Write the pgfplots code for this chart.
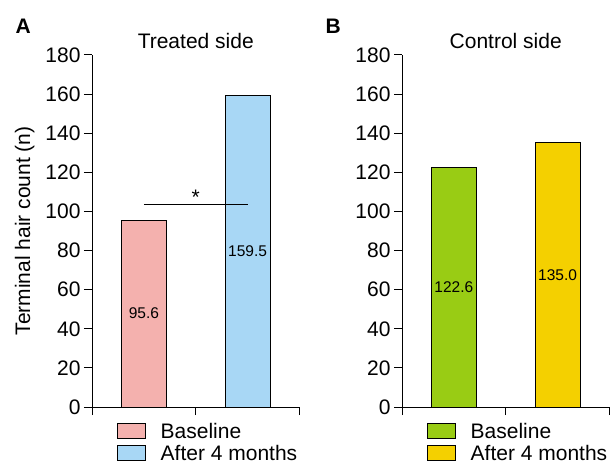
\documentclass[border=0pt]{standalone}
\usepackage{pgfplots}
\pgfplotsset{compat=1.18}
\usepackage{fontspec}
\setmainfont{Liberation Sans}

\definecolor{pinkbar}{RGB}{244,177,174}
\definecolor{bluebar}{RGB}{168,215,245}
\definecolor{greenbar}{RGB}{153,204,20}
\definecolor{yellowbar}{RGB}{244,208,0}

\newcommand{\bigfont}{\fontsize{21}{21}\selectfont}
\newcommand{\valfont}{\fontsize{15.5}{15.5}\selectfont}

\pgfplotsset{
  panel/.style={
    scale only axis, width=207.5pt, height=352pt,
    xmin=0, xmax=2, ymin=0, ymax=180,
    axis x line=bottom, axis y line=left,
    axis line style={-, line width=1pt},
    xtick={0,1,2}, xticklabels={},
    ytick={0,20,...,180},
    tick align=outside, major tick length=8pt,
    tick style={black, line width=1pt},
    ticklabel style={font=\bigfont},
    /pgf/number format/assume math mode=true,
    title style={font=\bigfont, at={(0.5,1)}, anchor=base, yshift=0pt},
    legend style={at={(axis description cs:0,0)}, anchor=north west,
      xshift=25pt, yshift=-14pt, draw=none, fill=none, inner sep=0pt,
      row sep=1pt, font=\bigfont, cells={anchor=west}},
    clip=false,
  },
  mybar/.style={ybar, bar width=45pt, bar shift=0pt, draw=black, line width=1pt,
    legend image code/.code={%
      \draw[##1, draw=black, line width=1pt] (0pt,-7pt) rectangle (28pt,8pt);
      \path[draw=none, fill=none] (0pt,0pt) -- (41pt,0pt);}},
}

\begin{document}
\begin{tikzpicture}
\useasboundingbox (0,0) rectangle (613pt,461pt);

\node[anchor=base west, font=\bfseries\fontsize{21}{21}\selectfont] at (12pt,427pt) {A};
\node[anchor=base west, font=\bfseries\fontsize{21}{21}\selectfont] at (322pt,427pt) {B};

\begin{axis}[panel, at={(92pt,54pt)}, anchor=south west,
    title={Treated side},
    ylabel={Terminal hair count (n)},
    ylabel style={font=\bigfont, at={(axis description cs:0,0.5)}, anchor=base, yshift=62pt}]
  \addplot[mybar, fill=pinkbar] coordinates {(0.5,95.6)};
  \addlegendentry{Baseline}
  \addplot[mybar, fill=bluebar] coordinates {(1.5,159.5)};
  \addlegendentry{After 4 months}
  \addplot[black, line width=1pt, forget plot] coordinates {(0.5,103.3) (1.5,103.3)};
  \node[anchor=base, font=\bigfont] at (axis cs:1,103.3) {*};
  \node[font=\valfont] at (axis cs:0.5,47.8) {95.6};
  \node[font=\valfont] at (axis cs:1.5,79.75) {159.5};
\end{axis}

\begin{axis}[panel, at={(402pt,54pt)}, anchor=south west,
    title={Control side}]
  \addplot[mybar, fill=greenbar] coordinates {(0.5,122.6)};
  \addlegendentry{Baseline}
  \addplot[mybar, fill=yellowbar] coordinates {(1.5,135.0)};
  \addlegendentry{After 4 months}
  \node[font=\valfont] at (axis cs:0.5,61.3) {122.6};
  \node[font=\valfont] at (axis cs:1.5,67.5) {135.0};
\end{axis}
\end{tikzpicture}
\end{document}
